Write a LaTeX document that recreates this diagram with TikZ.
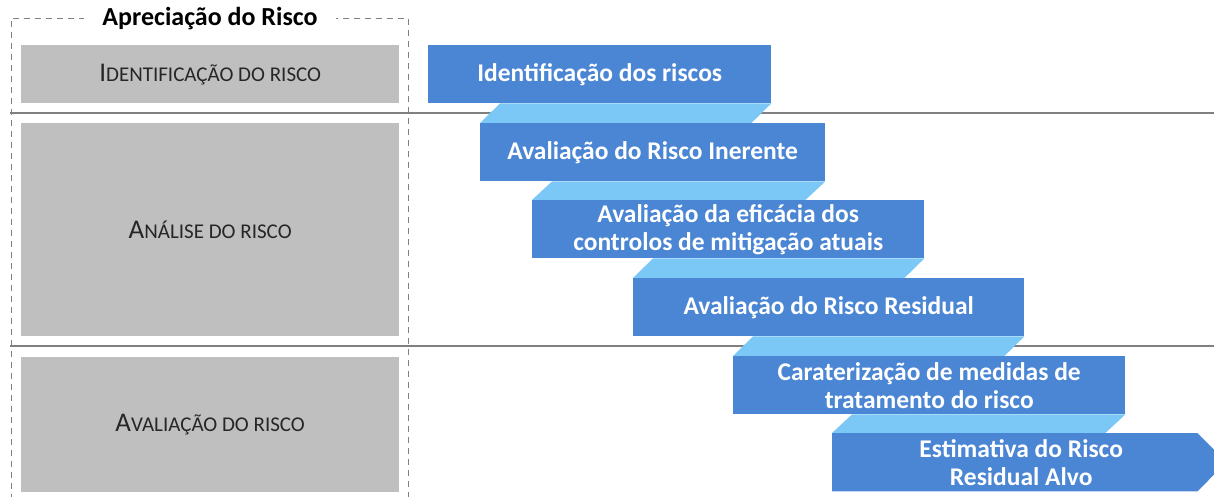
\documentclass[tikz,border=0pt]{standalone}
\usepackage{fontspec}
\setmainfont{Carlito}
\usetikzlibrary{backgrounds}
\definecolor{stepblue}{HTML}{4A86D4}
\definecolor{ribbonblue}{HTML}{7BC8F6}
\definecolor{phasegray}{HTML}{BFBFBF}
\definecolor{rulegray}{HTML}{808080}
\newcommand{\phasesc}[2]{{\fontsize{27}{30}\selectfont #1}{\fontsize{21}{30}\selectfont #2}}
\begin{document}
\begin{tikzpicture}[x=1pt,y=-1pt]
\tikzstyle{every node}+=[inner sep=0pt]
\tikzstyle{phase}=[fill=phasegray, anchor=north west, text=black!85, minimum width=378]
\tikzstyle{stepbox}=[fill=stepblue, anchor=north west, text=white, font=\bfseries\fontsize{25.5}{28}\selectfont, align=center, minimum height=58]
\tikzstyle{ribbon}=[fill=ribbonblue]
\tikzstyle{rule}=[rulegray, line width=2pt]
\clip (0,0) rectangle (1214,497);
% frame of the assessment
\draw [rulegray, dash pattern=on 6pt off 5pt] (11,500) -- (11,18) -- (408,18) -- (408,500);
\node [fill=white, inner xsep=18pt, inner ysep=3pt, font=\bfseries\fontsize{26}{28}\selectfont] (title) at (210,19) {Apreciação do Risco};
% phases
\node [phase, minimum height=58] (p1) at (21,45) {\phasesc{I}{DENTIFICAÇÃO DO RISCO}};
\node [phase, minimum height=213] (p2) at (21,123) {\phasesc{A}{NÁLISE DO RISCO}};
\node [phase, minimum height=135] (p3) at (21,357) {\phasesc{A}{VALIAÇÃO DO RISCO}};
% steps
\node [stepbox, minimum width=343] (s1) at (428,45) {Identificação dos riscos};
\node [stepbox, minimum width=345] (s2) at (480,123) {Avaliação do Risco Inerente};
\node [stepbox, minimum width=392] (s3) at (532,200) {Avaliação da eficácia dos\\controlos de mitigação atuais};
\node [stepbox, minimum width=391] (s4) at (633,278) {Avaliação do Risco Residual};
\node [stepbox, minimum width=392] (s5) at (733,356) {Caraterização de medidas de\\tratamento do risco};
\node [stepbox, fill=none, minimum width=378] (s6) at (832,433) {Estimativa do Risco\\Residual Alvo};
\begin{pgfonlayer}{background}
\draw [rule] (10,113) -- (1214,113);
\draw [rule] (10,346) -- (1214,346);
\fill [ribbon] ([xshift=20pt]s2.north west |- s1.south) -- (s1.south east) -- ([xshift=-20pt]s1.south east |- s2.north) -- (s2.north west) -- cycle;
\fill [ribbon] ([xshift=20pt]s3.north west |- s2.south) -- (s2.south east) -- ([xshift=-20pt]s2.south east |- s3.north) -- (s3.north west) -- cycle;
\fill [ribbon] ([xshift=20pt]s4.north west |- s3.south) -- (s3.south east) -- ([xshift=-20pt]s3.south east |- s4.north) -- (s4.north west) -- cycle;
\fill [ribbon] ([xshift=20pt]s5.north west |- s4.south) -- (s4.south east) -- ([xshift=-20pt]s4.south east |- s5.north) -- (s5.north west) -- cycle;
\fill [ribbon] ([xshift=20pt]s6.north west |- s5.south) -- (s5.south east) -- ([xshift=-20pt]s5.south east |- s6.north) -- (s6.north west) -- cycle;
% last step ends in a point
\fill [stepblue] (s6.north west) -- ([xshift=-13pt]s6.north east) -- ([xshift=16pt]s6.east) -- ([xshift=-13pt]s6.south east) -- (s6.south west) -- cycle;
\end{pgfonlayer}
\end{tikzpicture}
\end{document}
